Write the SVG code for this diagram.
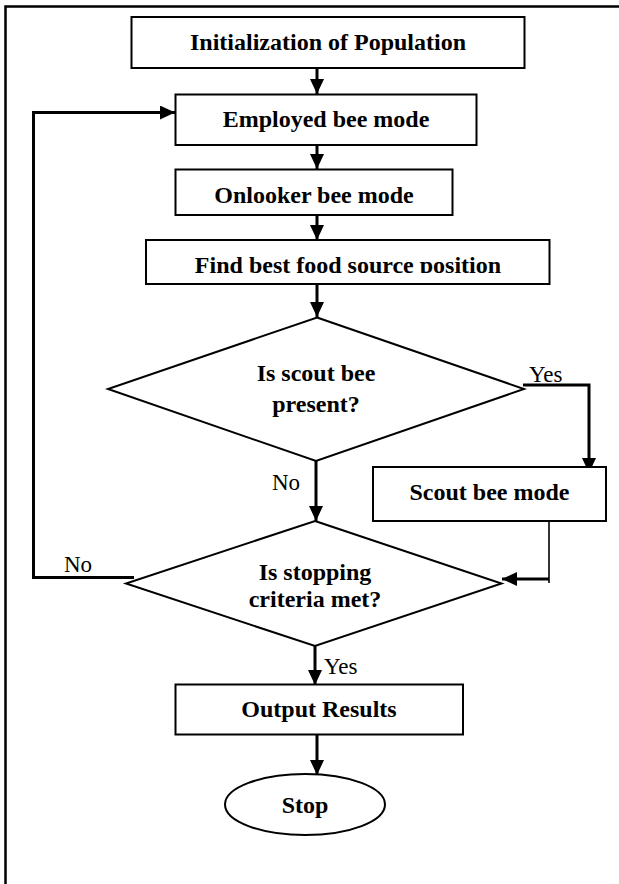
<svg xmlns="http://www.w3.org/2000/svg" width="619" height="884" viewBox="0 0 619 884">
<style>
.box{fill:#fff;stroke:#000;stroke-width:2}
.t{font-family:"Liberation Serif","Times New Roman",serif;font-weight:bold;font-size:24px;fill:#000;text-anchor:middle}
.lbl{font-family:"Liberation Serif","Times New Roman",serif;font-size:23px;fill:#000}
.c{fill:none;stroke:#000;stroke-width:3}
.thin{fill:none;stroke:#000;stroke-width:1.6}
</style>
<defs>
<marker id="ah" markerUnits="userSpaceOnUse" markerWidth="15" markerHeight="14" refX="15" refY="7" orient="auto">
<path d="M0,0 L15,7 L0,14 z" fill="#000"/>
</marker>
<clipPath id="fclip"><rect x="146" y="240" width="404" height="33"/></clipPath>
</defs>
<g id="frame">
<path d="M5.5,884 V6.5 H619" fill="none" stroke="#000" stroke-width="2.5"/>
</g>
<g id="connectors">
<path class="c" d="M317,63 V94" marker-end="url(#ah)"/>
<path class="c" d="M317,135 V169" marker-end="url(#ah)"/>
<path class="c" d="M317,210 V240" marker-end="url(#ah)"/>
<path class="c" d="M317,279 V317" marker-end="url(#ah)"/>
<path class="c" d="M316,461 V521" marker-end="url(#ah)"/>
<path class="c" d="M523,385 H589 V473" marker-end="url(#ah)"/>
<path class="thin" d="M549,516 V583"/>
<path class="c" d="M549,579 H502" marker-end="url(#ah)"/>
<path class="c" d="M134,577.5 H33.5 V112.5 H175" marker-end="url(#ah)"/>
<path class="c" d="M315,646 V685" marker-end="url(#ah)"/>
<path class="c" d="M317,730 V775" marker-end="url(#ah)"/>
</g>
<g id="init">
<rect class="box" x="131.5" y="17" width="393" height="51"/>
<text class="t" x="328" y="50">Initialization of Population</text>
</g>
<g id="employed">
<rect class="box" x="175.5" y="94.5" width="301" height="50.5"/>
<text class="t" x="326" y="127">Employed bee mode</text>
</g>
<g id="onlooker">
<rect class="box" x="175.5" y="169.5" width="277" height="45.5"/>
<text class="t" x="314" y="203">Onlooker bee mode</text>
</g>
<g id="findbest">
<rect class="box" x="146" y="240" width="403.5" height="44"/>
<text class="t" x="348" y="273" clip-path="url(#fclip)">Find best food source position</text>
</g>
<g id="scoutq">
<polygon class="box" points="317,317.5 524,389 316,461 108,389"/>
<text class="t" x="316" y="381">Is scout bee</text>
<text class="t" x="316" y="412">present?</text>
</g>
<g id="scout">
<rect class="box" x="373" y="467" width="233" height="54"/>
<text class="t" x="489.5" y="500">Scout bee mode</text>
</g>
<g id="stopq">
<polygon class="box" points="315,521 501.5,583.5 315,646 126,583.5"/>
<text class="t" x="315" y="580">Is stopping</text>
<text class="t" x="315" y="607">criteria met?</text>
</g>
<g id="output">
<rect class="box" x="175.5" y="684.5" width="287.5" height="50"/>
<text class="t" x="319" y="717">Output Results</text>
</g>
<g id="stop">
<ellipse class="box" cx="305" cy="804.5" rx="80" ry="30.5"/>
<text class="t" x="305" y="813">Stop</text>
</g>
<g id="labels">
<text class="lbl" x="529" y="382">Yes</text>
<text class="lbl" x="272" y="490">No</text>
<text class="lbl" x="64" y="572">No</text>
<text class="lbl" x="324" y="674">Yes</text>
</g>
</svg>
